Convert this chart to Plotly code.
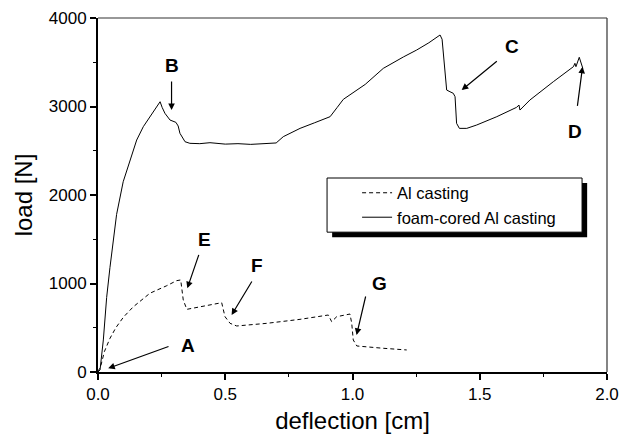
import plotly.graph_objects as go

# ---- data ----
foam_x = [0, 0.008, 0.021, 0.034, 0.047, 0.060, 0.073, 0.099, 0.126, 0.152, 0.178, 0.204, 0.231,
          0.244, 0.252, 0.263, 0.283, 0.306, 0.315, 0.322, 0.342, 0.361, 0.40, 0.44, 0.50, 0.55,
          0.60, 0.65, 0.70, 0.728, 0.794, 0.85, 0.912, 0.94, 0.964, 1.05, 1.121, 1.20, 1.252, 1.30,
          1.344, 1.352, 1.360, 1.370, 1.383, 1.396, 1.403, 1.409, 1.420, 1.449, 1.488, 1.567,
          1.645, 1.654, 1.658, 1.697, 1.789, 1.868, 1.874, 1.878, 1.891, 1.905]
foam_y = [0, 23, 362, 842, 1181, 1500, 1780, 2150, 2395, 2621, 2772, 2885, 2998,
          3054, 2990, 2923, 2847, 2821, 2780, 2697, 2602, 2584, 2580, 2591, 2575, 2580,
          2572, 2580, 2588, 2659, 2753, 2815, 2885, 2990, 3081, 3250, 3431, 3560, 3638, 3720,
          3808, 3760, 3500, 3186, 3167, 3149, 3111, 2810, 2753, 2753, 2791, 2885,
          2991, 3017, 2960, 3073, 3280, 3450, 3488, 3450, 3556, 3431]

al_x = [0, 0.012, 0.025, 0.047, 0.07, 0.1, 0.138, 0.204, 0.27, 0.309, 0.325, 0.335, 0.349,
        0.401, 0.486, 0.499, 0.519, 0.545, 0.663, 0.794, 0.905, 0.918, 0.938, 0.990, 0.997,
        1.003, 1.017, 1.121, 1.213]
al_y = [0, 80, 230, 380, 500, 620, 735, 890, 975, 1032, 1040, 814, 708,
        738, 783, 625, 550, 520, 550, 595, 644, 569, 625, 655, 550,
        362, 294, 268, 249]

# annotation labels: (letter, text x, text y, arrow tail x, tail y, head x, head y)
labels = ["A", "B", "C", "D", "E", "F", "G"]
label_x = [0.355, 0.289, 1.626, 1.874, 0.417, 0.626, 1.108]
label_y = [305, 3458, 3676, 2715, 1492, 1198, 1002]
tail_x = [0.283, 0.289, 1.573, 1.883, 0.398, 0.608, 1.053]
tail_y = [294, 3299, 3525, 2991, 1341, 1040, 870]
head_x = [0.040, 0.289, 1.429, 1.904, 0.351, 0.525, 1.016]
head_y = [42, 2960, 3186, 3450, 946, 644, 418]

FONT = "Liberation Sans, Arial, sans-serif"

fig = go.Figure()
fig.add_trace(go.Scatter(x=al_x, y=al_y, mode="lines", name="Al casting",
                         line=dict(color="black", width=1, dash="4px,3px")))
fig.add_trace(go.Scatter(x=foam_x, y=foam_y, mode="lines", name="foam-cored Al casting",
                         line=dict(color="black", width=1)))

annotations = []
for i, lab in enumerate(labels):
    annotations.append(dict(x=head_x[i], y=head_y[i], ax=tail_x[i], ay=tail_y[i],
                            xref="x", yref="y", axref="x", ayref="y", text="",
                            showarrow=True, arrowhead=2, arrowsize=1.1, arrowwidth=1.2,
                            arrowcolor="black"))
    annotations.append(dict(x=label_x[i], y=label_y[i], xref="x", yref="y", text="<b>%s</b>" % lab,
                            showarrow=False, font=dict(family=FONT, size=19, color="black")))

shapes = [
    # legend shadow and box
    dict(type="rect", xref="paper", yref="paper", x0=0.460, x1=0.961, y0=0.381, y1=0.534,
         fillcolor="black", line=dict(width=0), layer="above"),
    dict(type="rect", xref="paper", yref="paper", x0=0.450, x1=0.951, y0=0.395, y1=0.548,
         fillcolor="white", line=dict(color="black", width=1), layer="above"),
    # top and right frame
    dict(type="line", xref="paper", yref="paper", x0=0, x1=1, y0=1, y1=1,
         line=dict(color="#333", width=1.2)),
    dict(type="line", xref="paper", yref="paper", x0=1, x1=1, y0=0, y1=1,
         line=dict(color="#333", width=1.2)),
]

fig.update_layout(
    width=623, height=443,
    margin=dict(l=98, r=16, t=18, b=71),
    paper_bgcolor="white", plot_bgcolor="rgba(0,0,0,0)",
    font=dict(family=FONT, color="black"),
    showlegend=True,
    legend=dict(x=0.509, y=0.555, xanchor="left", yanchor="top",
                bgcolor="rgba(0,0,0,0)", borderwidth=0,
                font=dict(family=FONT, size=16.5, color="black"),
                tracegroupgap=0),
    annotations=annotations,
    shapes=shapes,
)
fig.update_xaxes(range=[0, 2], tickvals=[0, 0.5, 1.0, 1.5, 2.0], tickformat=".1f",
                 ticks="outside", ticklen=6, tickwidth=1.5, tickcolor="black",
                 showline=True, linecolor="black", linewidth=2, showgrid=False, zeroline=False,
                 automargin=False,
                 minor=dict(dtick=0.25, ticks="outside", ticklen=3, tickwidth=1.2, tickcolor="black", showgrid=False),
                 tickfont=dict(family=FONT, size=17),
                 title=dict(text="deflection [cm]", font=dict(family=FONT, size=24), standoff=9))
fig.update_yaxes(range=[0, 4000], tickvals=[0, 1000, 2000, 3000, 4000],
                 ticks="outside", ticklen=6, tickwidth=1.5, tickcolor="black",
                 showline=True, linecolor="black", linewidth=2, showgrid=False, zeroline=False,
                 automargin=False,
                 minor=dict(dtick=500, ticks="outside", ticklen=3, tickwidth=1.2, tickcolor="black", showgrid=False),
                 tickfont=dict(family=FONT, size=17),
                 title=dict(text="load [N]", font=dict(family=FONT, size=24), standoff=9))

fig.write_html("out.html", config={"displayModeBar": False},
               post_script="document.body.style.margin='0';document.body.style.overflow='hidden';")
